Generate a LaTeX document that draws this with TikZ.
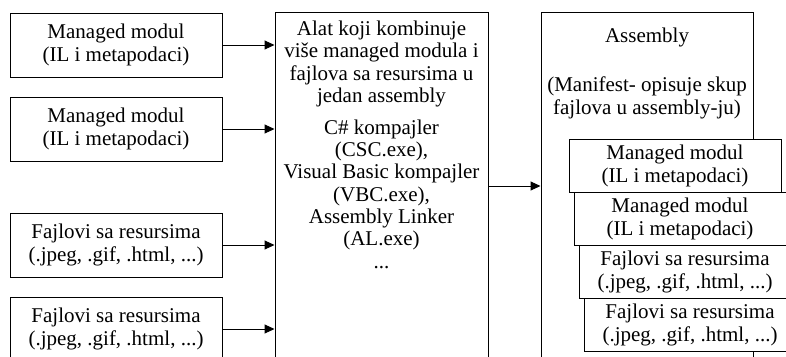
\documentclass[tikz,border=0pt]{standalone}
\usepackage{fontspec}
\setmainfont{Liberation Serif}
\usetikzlibrary{arrows.meta}
\begin{document}
\begin{tikzpicture}[x=1pt,y=-1pt,
  box/.style={draw, line width=1pt, fill=white, minimum width=212pt, inner sep=0pt, align=center,
    font=\fontsize{21}{23}\selectfont},
  txt/.style={inner sep=0pt, align=center, font=\fontsize{21}{22.3}\selectfont},
  arr/.style={line width=1pt, -{Triangle[length=10pt,width=9pt]}}]
\useasboundingbox (0,0) rectangle (786,356);
\clip (0,0) rectangle (786,356);
% left inputs
\node[box, minimum height=64pt] (L1) at (116,45) {Managed modul\\(IL i metapodaci)};
\node[box, minimum height=64pt] (L2) at (116,129) {Managed modul\\(IL i metapodaci)};
\node[box, minimum height=64pt] (L3) at (116,245) {Fajlovi sa resursima\\(.jpeg, .gif, .html, ...)};
\node[box, minimum height=64pt] (L4) at (116,329) {Fajlovi sa resursima\\(.jpeg, .gif, .html, ...)};
% middle tool
\node[box, minimum width=213pt, minimum height=348pt] (M) at (381.5,186) {};
\node[txt] (Mt1) at (381.5,64) {Alat koji kombinuje\\više managed modula i\\fajlova sa resursima u\\jedan assembly};
\node[txt] (Mt2) at (381.5,194) {C\# kompajler\\(CSC.exe),\\Visual Basic kompajler\\(VBC.exe),\\Assembly Linker\\(AL.exe)\\...};
% right assembly
\node[box, minimum width=212pt, minimum height=348pt] (R) at (647,186) {};
\node[txt] (Rt1) at (647,37) {Assembly};
\node[txt] (Rt2) at (647,98) {(Manifest- opisuje skup\\fajlova u assembly-ju)};
\node[box, minimum height=53pt] (S1) at (675,165.5) {Managed modul\\(IL i metapodaci)};
\node[box, minimum height=53pt] (S2) at (680,218.5) {Managed modul\\(IL i metapodaci)};
\node[box, minimum height=53pt] (S3) at (685,271.5) {Fajlovi sa resursima\\(.jpeg, .gif, .html, ...)};
\node[box, minimum height=53pt] (S4) at (690,324.5) {Fajlovi sa resursima\\(.jpeg, .gif, .html, ...)};
% connectors
\draw[arr] (L1.east) -- (L1.east -| M.west);
\draw[arr] (L2.east) -- (L2.east -| M.west);
\draw[arr] (L3.east) -- (L3.east -| M.west);
\draw[arr] (L4.east) -- (L4.east -| M.west);
\draw[arr] (M.east) -- (R.west);
\end{tikzpicture}
\end{document}
